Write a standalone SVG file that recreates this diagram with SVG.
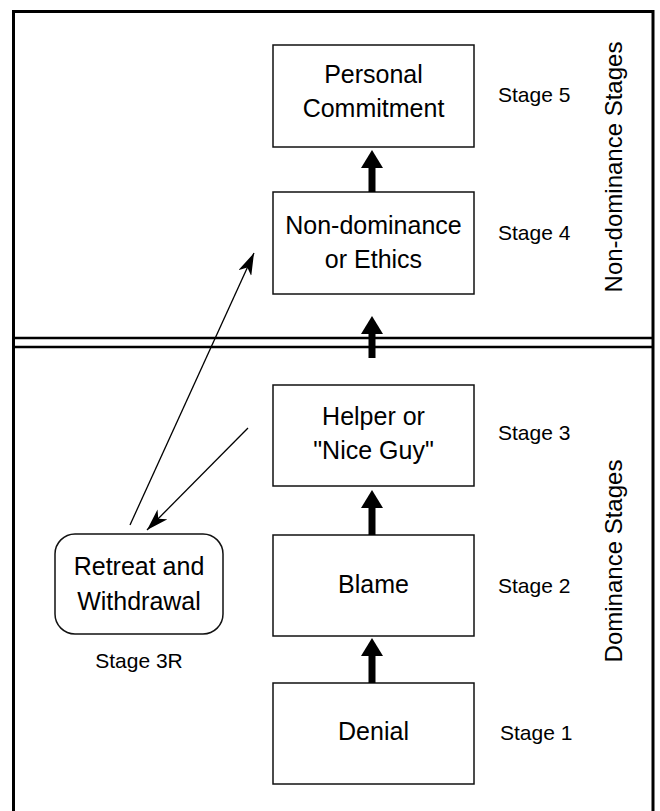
<svg xmlns="http://www.w3.org/2000/svg" width="660" height="811" viewBox="0 0 660 811">
  <style>
    .frame { fill: none; stroke: #000; stroke-width: 3; }
    .sep { stroke: #000; stroke-width: 2.5; }
    .box { fill: #fff; stroke: #111; stroke-width: 1.5; }
    .lbl { font-family: "Liberation Sans", Arial, sans-serif; font-size: 25px; fill: #000; text-anchor: middle; }
    .stage { font-family: "Liberation Sans", Arial, sans-serif; font-size: 21px; fill: #000; }
    .side { font-family: "Liberation Sans", Arial, sans-serif; font-size: 24px; fill: #000; text-anchor: middle; }
    .thick { stroke: #000; stroke-width: 7; fill: none; }
    .thin { stroke: #000; stroke-width: 1.3; fill: none; }
  </style>
  <defs>
    <marker id="bighead" viewBox="0 0 18 22" refX="0" refY="11" markerWidth="18" markerHeight="22" markerUnits="userSpaceOnUse" orient="auto">
      <path d="M0,0 L18,11 L0,22 Z" fill="#000"/>
    </marker>
    <marker id="barb" viewBox="0 0 22 14" refX="22" refY="7" markerWidth="22" markerHeight="14" markerUnits="userSpaceOnUse" orient="auto">
      <path d="M0,0 L22,7 L0,14 L6,7 Z" fill="#000"/>
    </marker>
  </defs>
  <rect width="660" height="811" fill="#fff"/>

  <g id="frame">
    <path class="frame" d="M13.5,830 L13.5,11.5 L653,11.5 L653,830"/>
    <line class="sep" x1="13" y1="338" x2="653" y2="338"/>
    <line class="sep" x1="13" y1="347" x2="653" y2="347"/>
    <text class="side" transform="translate(622,167) rotate(-90)">Non-dominance Stages</text>
    <text class="side" transform="translate(622,561) rotate(-90)">Dominance Stages</text>
  </g>

  <g id="stage5">
    <rect class="box" x="273" y="45" width="201" height="102"/>
    <text class="lbl" x="373.5" y="83">Personal</text>
    <text class="lbl" x="373.5" y="117">Commitment</text>
    <text class="stage" x="498" y="102">Stage 5</text>
  </g>

  <g id="stage4">
    <rect class="box" x="273" y="192" width="201" height="102"/>
    <text class="lbl" x="373.5" y="234">Non-dominance</text>
    <text class="lbl" x="373.5" y="268">or Ethics</text>
    <text class="stage" x="498" y="240">Stage 4</text>
  </g>

  <g id="stage3">
    <rect class="box" x="273" y="385" width="201" height="101"/>
    <text class="lbl" x="373.5" y="425">Helper or</text>
    <text class="lbl" x="373.5" y="459">"Nice Guy"</text>
    <text class="stage" x="498" y="440">Stage 3</text>
  </g>

  <g id="stage2">
    <rect class="box" x="273" y="535" width="201" height="101"/>
    <text class="lbl" x="373.5" y="593">Blame</text>
    <text class="stage" x="498" y="593">Stage 2</text>
  </g>

  <g id="stage1">
    <rect class="box" x="273" y="683" width="201" height="101"/>
    <text class="lbl" x="373.5" y="740">Denial</text>
    <text class="stage" x="500" y="740">Stage 1</text>
  </g>

  <g id="stage3r">
    <rect class="box" x="55" y="534" width="168" height="100" rx="20" ry="20"/>
    <text class="lbl" x="139" y="575">Retreat and</text>
    <text class="lbl" x="139" y="610">Withdrawal</text>
    <text class="stage" x="139" y="668" text-anchor="middle">Stage 3R</text>
  </g>

  <g id="connectors">
    <line class="thick" x1="372" y1="192" x2="372" y2="168" marker-end="url(#bighead)"/>
    <line class="thick" x1="372" y1="358" x2="372" y2="334" marker-end="url(#bighead)"/>
    <line class="thick" x1="372" y1="535" x2="372" y2="508" marker-end="url(#bighead)"/>
    <line class="thick" x1="372" y1="683" x2="372" y2="656" marker-end="url(#bighead)"/>
    <line class="thin" x1="130" y1="525" x2="254" y2="253" marker-end="url(#barb)"/>
    <line class="thin" x1="248" y1="428" x2="147" y2="530" marker-end="url(#barb)"/>
  </g>
</svg>
